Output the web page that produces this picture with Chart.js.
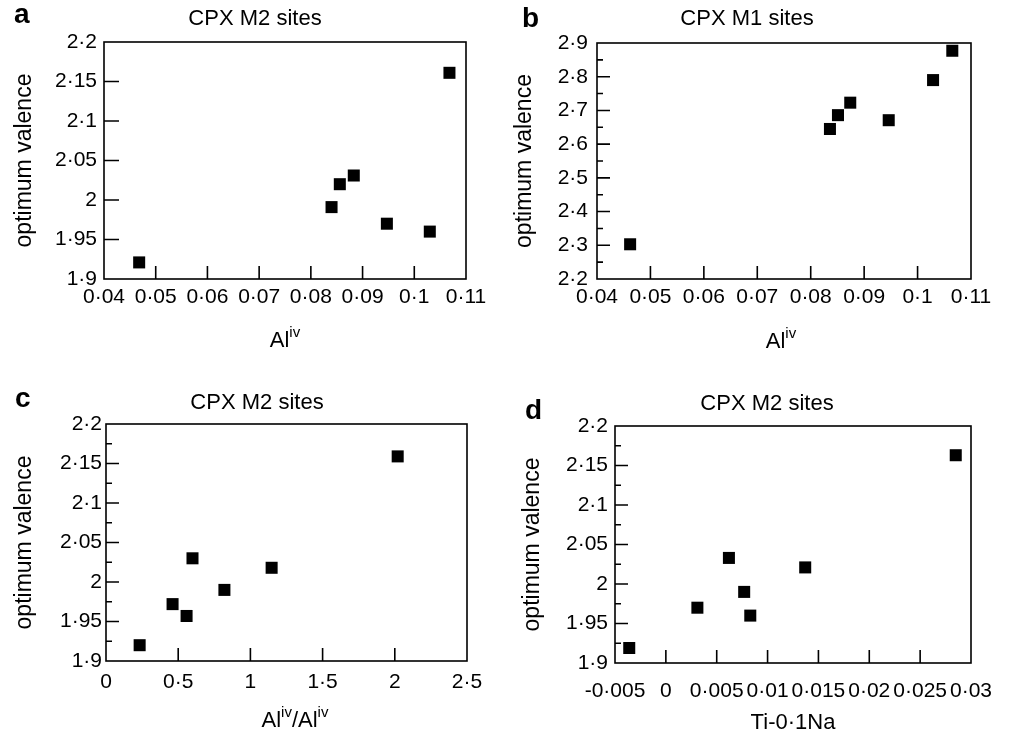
<!DOCTYPE html>
<html>
<head>
<meta charset="utf-8">
<script src="https://cdn.jsdelivr.net/npm/chart.js@4.4.1/dist/chart.umd.min.js"></script>
<style>
  body { margin: 0; background: #fff; }
  .panel { position: absolute; }
</style>
</head>
<body>
<div class="panel" style="left:0;top:0"><canvas id="chartA" width="505" height="367"></canvas></div>
<div class="panel" style="left:505px;top:0"><canvas id="chartB" width="506" height="367"></canvas></div>
<div class="panel" style="left:0;top:367px"><canvas id="chartC" width="505" height="367"></canvas></div>
<div class="panel" style="left:505px;top:367px"><canvas id="chartD" width="506" height="367"></canvas></div>
<script>
// panel a: CPX M2 sites vs Al(iv)
const alivA = [0.0468, 0.0840, 0.0856, 0.0883, 0.0947, 0.1030, 0.1068];
const m2ValA = [1.921, 1.991, 2.020, 2.031, 1.970, 1.960, 2.161];
// panel b: CPX M1 sites vs Al(iv)
const alivB = [0.0462, 0.0836, 0.0851, 0.0874, 0.0946, 0.1029, 0.1065];
const m1ValB = [2.303, 2.645, 2.686, 2.723, 2.671, 2.790, 2.877];
// panel c: CPX M2 sites vs Al(iv)/Al(iv)
const alRatioC = [0.233, 0.461, 0.558, 0.599, 0.820, 1.147, 2.020];
const m2ValC = [1.920, 1.972, 1.957, 2.030, 1.990, 2.018, 2.159];
// panel d: CPX M2 sites vs Ti-0.1Na
const tiNaD = [-0.0036, 0.0031, 0.0062, 0.0077, 0.0083, 0.0137, 0.0285];
const m2ValD = [1.919, 1.970, 2.033, 1.990, 1.960, 2.021, 2.163];

const FONT = "'Liberation Sans', Arial, Helvetica, sans-serif";
Chart.defaults.font.family = FONT;
Chart.defaults.color = '#000';

function dotFmt(v) {
  return String(Number(v.toFixed(4))).replace('.', '\u00b7');
}

// box round the plot area + ticks pointing inwards
const framePlugin = {
  id: 'frame',
  beforeDatasetsDraw(chart, args, opts) {
    const { ctx, chartArea: ca } = chart;
    const x = chart.scales.x, y = chart.scales.y;
    ctx.save();
    ctx.strokeStyle = '#000';
    ctx.lineWidth = 1.6;
    ctx.beginPath();
    x.ticks.forEach(t => {
      const px = x.getPixelForValue(t.value);
      if (px < ca.left + 2 || px > ca.right - 2) return;
      ctx.moveTo(px, ca.bottom);
      ctx.lineTo(px, ca.bottom - opts.xTick);
    });
    y.ticks.forEach(t => {
      const py = y.getPixelForValue(t.value);
      if (py < ca.top + 2 || py > ca.bottom - 2) return;
      ctx.moveTo(ca.left, py);
      ctx.lineTo(ca.left + opts.yTick, py);
    });
    if (opts.yMinor) {
      const range = y.max - y.min;
      for (let k = 1; k * opts.yMinor < range - 1e-9; k += 2) {
        const py = y.getPixelForValue(y.min + k * opts.yMinor);
        ctx.moveTo(ca.left, py);
        ctx.lineTo(ca.left + 6, py);
      }
    }
    ctx.stroke();
    ctx.strokeRect(ca.left, ca.top, ca.right - ca.left, ca.bottom - ca.top);
    ctx.restore();
  }
};

// panel letter, title and x label (with superscripts)
const textPlugin = {
  id: 'panelText',
  afterDraw(chart, args, opts) {
    const ctx = chart.ctx;
    ctx.save();
    ctx.fillStyle = '#000';
    ctx.textBaseline = 'alphabetic';
    ctx.textAlign = 'left';
    ctx.font = 'bold 28px ' + FONT;
    ctx.fillText(opts.letter, opts.letterX, opts.letterY);
    ctx.textAlign = 'center';
    ctx.font = '22px ' + FONT;
    ctx.fillText(opts.title, opts.titleX, opts.titleY);
    // x label
    ctx.textAlign = 'left';
    const parts = opts.xLabel.map(p => {
      ctx.font = (p.sup ? '15px ' : '22px ') + FONT;
      return { ...p, w: ctx.measureText(p.t).width };
    });
    const total = parts.reduce((s, p) => s + p.w, 0);
    let cx = opts.xLabelX - total / 2;
    parts.forEach(p => {
      ctx.font = (p.sup ? '15px ' : '22px ') + FONT;
      ctx.fillText(p.t, cx, p.sup ? opts.xLabelY - 10 : opts.xLabelY);
      cx += p.w;
    });
    ctx.restore();
  }
};

function makeChart(id, xs, ys, cfg) {
  const canvas = document.getElementById(id);
  const W = canvas.width, H = canvas.height;
  const pts = xs.map((v, i) => ({ x: v, y: ys[i] }));
  return new Chart(canvas, {
    type: 'scatter',
    data: {
      datasets: [{
        data: pts,
        pointStyle: 'rect',
        pointRadius: 8.5,
        pointHoverRadius: 8.5,
        backgroundColor: '#000',
        borderWidth: 0,
        clip: false
      }]
    },
    options: {
      responsive: false,
      devicePixelRatio: 1,
      animation: false,
      events: [],
      layout: {
        padding: { top: cfg.area.top, right: W - cfg.area.right, left: 0, bottom: 0 }
      },
      plugins: {
        legend: { display: false },
        tooltip: { enabled: false },
        frame: { xTick: 13, yTick: cfg.yTick, yMinor: cfg.yMinor },
        panelText: cfg.text
      },
      scales: {
        x: {
          type: 'linear',
          min: cfg.xMin, max: cfg.xMax,
          grid: { display: false, drawTicks: false },
          border: { display: false },
          afterFit: s => { s.height = H - cfg.area.bottom; },
          ticks: {
            stepSize: cfg.xStep,
            autoSkip: false,
            maxRotation: 0,
            padding: cfg.xPad,
            font: { size: 21 },
            callback: v => dotFmt(v)
          }
        },
        y: {
          type: 'linear',
          min: cfg.yMin, max: cfg.yMax,
          grid: { display: false, drawTicks: false },
          border: { display: false },
          afterFit: s => { s.width = cfg.area.left; },
          title: {
            display: true,
            text: 'optimum valence',
            font: { size: 23 },
            padding: { top: cfg.yTitlePad, bottom: 0 }
          },
          ticks: {
            stepSize: cfg.yStep,
            autoSkip: false,
            padding: cfg.yPad,
            font: { size: 21 },
            callback: v => dotFmt(v)
          }
        }
      }
    },
    plugins: [framePlugin, textPlugin]
  });
}

makeChart('chartA', alivA, m2ValA, {
  area: { left: 104, right: 466, top: 42, bottom: 279 },
  xMin: 0.04, xMax: 0.11, xStep: 0.01, xPad: 6,
  yMin: 1.9, yMax: 2.2, yStep: 0.05, yPad: 7, yTick: 15, yMinor: 0,
  yTitlePad: 11,
  text: {
    letter: 'a', letterX: 14, letterY: 23,
    title: 'CPX M2 sites', titleX: 255, titleY: 25,
    xLabel: [{ t: 'Al' }, { t: 'iv', sup: true }], xLabelX: 285, xLabelY: 347
  }
});

makeChart('chartB', alivB, m1ValB, {
  area: { left: 92, right: 466, top: 43, bottom: 279 },
  xMin: 0.04, xMax: 0.11, xStep: 0.01, xPad: 6,
  yMin: 2.2, yMax: 2.9, yStep: 0.1, yPad: 9, yTick: 13, yMinor: 0.05,
  yTitlePad: 6,
  text: {
    letter: 'b', letterX: 17, letterY: 27,
    title: 'CPX M1 sites', titleX: 242, titleY: 25,
    xLabel: [{ t: 'Al' }, { t: 'iv', sup: true }], xLabelX: 276, xLabelY: 348
  }
});

makeChart('chartC', alRatioC, m2ValC, {
  area: { left: 106, right: 467, top: 57, bottom: 294 },
  xMin: 0, xMax: 2.5, xStep: 0.5, xPad: 9,
  yMin: 1.9, yMax: 2.2, yStep: 0.05, yPad: 4, yTick: 13, yMinor: 0.025,
  yTitlePad: 11,
  text: {
    letter: 'c', letterX: 15, letterY: 40,
    title: 'CPX M2 sites', titleX: 257, titleY: 42,
    xLabel: [{ t: 'Al' }, { t: 'iv', sup: true }, { t: '/Al' }, { t: 'iv', sup: true }], xLabelX: 295, xLabelY: 360
  }
});

makeChart('chartD', tiNaD, m2ValD, {
  area: { left: 110, right: 466, top: 59, bottom: 296 },
  xMin: -0.005, xMax: 0.03, xStep: 0.005, xPad: 16,
  yMin: 1.9, yMax: 2.2, yStep: 0.05, yPad: 7, yTick: 13, yMinor: 0.025,
  yTitlePad: 14,
  text: {
    letter: 'd', letterX: 20, letterY: 52,
    title: 'CPX M2 sites', titleX: 262, titleY: 43,
    xLabel: [{ t: 'Ti-0\u00b71Na' }], xLabelX: 288, xLabelY: 362
  }
});
</script>
</body>
</html>
